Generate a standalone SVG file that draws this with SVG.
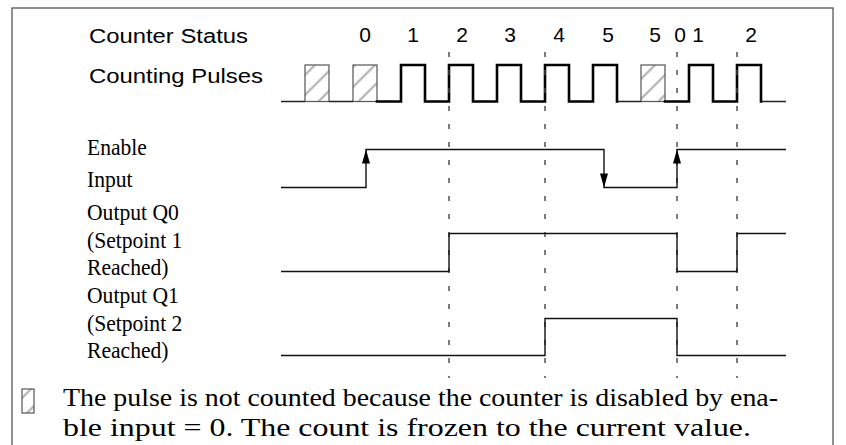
<svg xmlns="http://www.w3.org/2000/svg" width="846" height="445" viewBox="0 0 846 445">
<defs>
<pattern id="hatch" patternUnits="userSpaceOnUse" width="20" height="20">
<path d="M-5,5 L5,-5 M0,20 L20,0 M15,25 L25,15" stroke="#bbbbbb" stroke-width="2.4"/>
</pattern>
</defs>
<style>
.sans{font-family:"Liberation Sans",Arial,sans-serif;font-size:20px;fill:#000}
.serif{font-family:"Liberation Serif","Times New Roman",serif;font-size:24px;fill:#000}
.thin{fill:none;stroke:#222;stroke-width:1.3}
.bold{fill:none;stroke:#000;stroke-width:2.6;stroke-linejoin:miter;stroke-linecap:square}
.hbox{fill:url(#hatch);stroke:#555;stroke-width:1.2}
.dash{stroke:#444;stroke-width:1.4;stroke-dasharray:5 13}
.sig{fill:none;stroke:#111;stroke-width:1.4}
</style>
<rect x="12" y="8" width="821" height="460" fill="#fff" stroke="#555" stroke-width="1.3"/>

<g id="labels">
<text class="sans" x="89" y="43" textLength="159" lengthAdjust="spacingAndGlyphs">Counter Status</text>
<text class="sans" x="89" y="83" textLength="174" lengthAdjust="spacingAndGlyphs">Counting Pulses</text>
<g transform="translate(87,0) scale(0.9,1) translate(-87,0)">
<text class="serif" x="87" y="155">Enable</text>
<text class="serif" x="87" y="187">Input</text>
<text class="serif" x="87" y="220">Output Q0</text>
<text class="serif" x="87" y="248">(Setpoint 1</text>
<text class="serif" x="87" y="275">Reached)</text>
<text class="serif" x="87" y="303">Output Q1</text>
<text class="serif" x="87" y="331">(Setpoint 2</text>
<text class="serif" x="87" y="358">Reached)</text>
</g>
</g>

<g id="counter-status" class="sans" text-anchor="middle" style="font-size:21px">
<text x="365" y="42">0</text>
<text x="413" y="42">1</text>
<text x="462" y="42">2</text>
<text x="510" y="42">3</text>
<text x="559" y="42">4</text>
<text x="608" y="42">5</text>
<text x="655" y="42">5</text>
<text x="680" y="42">0</text>
<text x="698" y="42">1</text>
<text x="751" y="42">2</text>
</g>

<g id="counting-pulses">
<rect class="hbox" x="305" y="65" width="24" height="36.5"/>
<rect class="hbox" x="353" y="65" width="24" height="36.5"/>
<rect class="hbox" x="641" y="65" width="24" height="36.5"/>
<path class="thin" d="M281,101.5 H305 M329,101.5 H353 M617,101.5 H641 M761,101.5 H786"/>
<path class="bold" d="M377,101.5 H401 V65 H425 V101.5 H449 V65 H473 V101.5 H497 V65 H521 V101.5 H545 V65 H569 V101.5 H593 V65 H617 V101.5"/>
<path class="bold" d="M665,101.5 H689 V65 H713 V101.5 H737 V65 H761 V101.5"/>
</g>

<g id="connectors">
<line class="dash" x1="449" y1="52" x2="449" y2="378"/>
<line class="dash" x1="545" y1="52" x2="545" y2="378"/>
<line class="dash" x1="677" y1="52" x2="677" y2="378"/>
<line class="dash" x1="737" y1="52" x2="737" y2="378"/>
</g>

<g id="enable-input">
<path class="sig" d="M281,187.5 H366 V149.5 H604 V187.5 H677 V149.5 H786"/>
<path d="M362,163.5 L366,149.5 L370,163.5 Z" fill="#000"/>
<path d="M600,173.5 L604,187.5 L608,173.5 Z" fill="#000"/>
<path d="M673,163.5 L677,149.5 L681,163.5 Z" fill="#000"/>
</g>

<g id="output-q0">
<path class="sig" d="M281,271.5 H449 V233.5 H677 V271.5 H737 V233.5 H786"/>
</g>

<g id="output-q1">
<path class="sig" d="M281,355.5 H545 V318.5 H677 V355.5 H786"/>
</g>

<g id="legend">
<rect class="hbox" x="22" y="389" width="12" height="24"/>
<text class="serif" x="63" y="406" style="font-size:26px" textLength="715" lengthAdjust="spacingAndGlyphs">The pulse is not counted because the counter is disabled by ena-</text>
<text class="serif" x="63" y="436" style="font-size:26px" textLength="688" lengthAdjust="spacingAndGlyphs">ble input = 0. The count is frozen to the current value.</text>
</g>
</svg>
